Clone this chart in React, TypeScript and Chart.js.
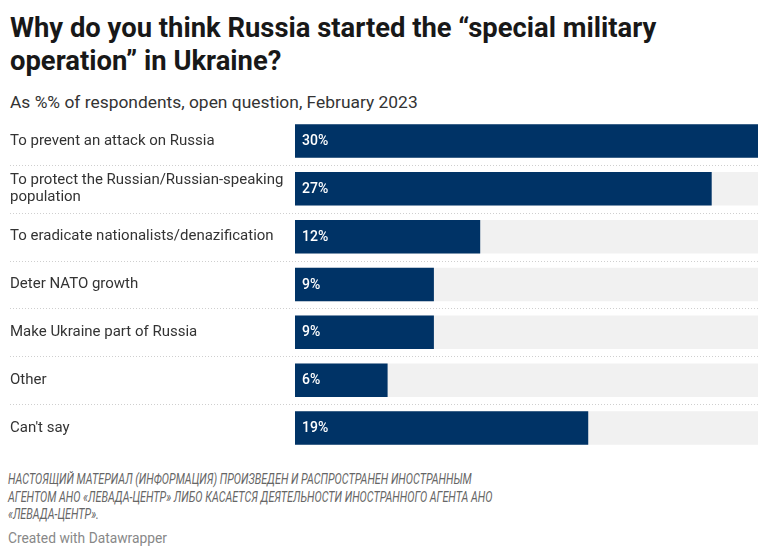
import React, { useEffect, useRef } from "react";
import { Chart, registerables } from "chart.js";

Chart.register(...registerables);

// Survey answers, top to bottom
const CATEGORIES: (string | string[])[] = [
  "To prevent an attack on Russia",
  ["To protect the Russian/Russian-speaking", "population"],
  "To eradicate nationalists/denazification",
  "Deter NATO growth",
  "Make Ukraine part of Russia",
  "Other",
  "Can't say",
];

// Share of respondents, %
const VALUES: number[] = [30, 27, 12, 9, 9, 6, 19];

// Upper bound of the value axis; the grey track runs up to it
const AXIS_MAX = 30;

const BAR_COLOR = "#003366";
const TRACK_COLOR = "#f1f1f1";
const FONT = "Roboto, 'Noto Sans', sans-serif";

// Dotted separators between rows, reaching across the label column
const rowSeparators = {
  id: "rowSeparators",
  beforeDatasetsDraw(chart: any) {
    const { ctx, chartArea } = chart;
    const y = chart.scales.y;
    const n = y.ticks.length;
    ctx.save();
    ctx.strokeStyle = "#cfcfcf";
    ctx.lineWidth = 1;
    ctx.setLineDash([1, 2]);
    for (let i = 0; i < n - 1; i++) {
      const yy = Math.round((y.getPixelForTick(i) + y.getPixelForTick(i + 1)) / 2) + 0.5;
      ctx.beginPath();
      ctx.moveTo(10, yy);
      ctx.lineTo(chartArea.right, yy);
      ctx.stroke();
    }
    ctx.restore();
  },
};

// Percentage labels printed inside each bar
const valueLabels = {
  id: "valueLabels",
  afterDatasetsDraw(chart: any) {
    const { ctx } = chart;
    const meta = chart.getDatasetMeta(0);
    ctx.save();
    ctx.fillStyle = "#ffffff";
    ctx.font = `500 14px ${FONT}`;
    ctx.textAlign = "left";
    ctx.textBaseline = "middle";
    meta.data.forEach((bar: any, i: number) => {
      ctx.fillText(`${VALUES[i]}%`, bar.base + 7, bar.y + 0.5);
    });
    ctx.restore();
  },
};

function BarChart() {
  const canvasRef = useRef<HTMLCanvasElement | null>(null);

  useEffect(() => {
    let chart: Chart | null = null;
    let cancelled = false;

    const build = () => {
      if (cancelled || !canvasRef.current) return;
      chart = new Chart(canvasRef.current, {
        type: "bar",
        data: {
          labels: CATEGORIES as any,
          datasets: [
            {
              label: "Share",
              data: VALUES,
              backgroundColor: BAR_COLOR,
              barPercentage: 0.7,
              categoryPercentage: 1,
              grouped: false,
              order: 0,
            },
            {
              label: "Track",
              data: CATEGORIES.map(() => AXIS_MAX),
              backgroundColor: TRACK_COLOR,
              barPercentage: 0.7,
              categoryPercentage: 1,
              grouped: false,
              order: 1,
            },
          ],
        },
        options: {
          indexAxis: "y",
          responsive: false,
          animation: false,
          layout: { padding: { left: 10, right: 7, top: 2, bottom: 2 } },
          plugins: {
            legend: { display: false },
            tooltip: { enabled: false },
          },
          scales: {
            x: {
              min: 0,
              max: AXIS_MAX,
              display: false,
            },
            y: {
              grid: { display: false },
              border: { display: false },
              ticks: {
                crossAlign: "far",
                color: "#333333",
                font: { family: FONT, size: 15, lineHeight: 1.17 },
                autoSkip: false,
              },
              afterFit(scale: any) {
                scale.width = 285;
                scale.paddingTop = 0;
                scale.paddingBottom = 0;
              },
            },
          },
        },
        plugins: [rowSeparators, valueLabels],
      });
    };

    const fonts = (document as any).fonts;
    if (fonts && fonts.load) {
      Promise.all([
        fonts.load(`15px Roboto`),
        fonts.load(`500 14px Roboto`),
      ])
        .catch(() => undefined)
        .then(build);
    } else {
      build();
    }

    return () => {
      cancelled = true;
      if (chart) chart.destroy();
    };
  }, []);

  return (
    <canvas
      ref={canvasRef}
      width={765}
      height={339}
      style={{ position: "absolute", left: 0, top: 115, display: "block" }}
    />
  );
}

export default function App() {
  return (
    <div
      style={{
        position: "absolute",
        left: 0,
        top: 0,
        width: 765,
        height: 558,
        background: "#ffffff",
        fontFamily: FONT,
      }}
    >
      <div
        style={{
          position: "absolute",
          left: 10,
          top: 12,
          fontSize: 27.4,
          lineHeight: "33px",
          fontWeight: 700,
          color: "#181818",
          whiteSpace: "nowrap",
        }}
      >
        Why do you think Russia started the “special military
        <br />
        operation” in Ukraine?
      </div>
      <div
        style={{
          position: "absolute",
          left: 10,
          top: 92,
          fontSize: 17.4,
          lineHeight: "20px",
          color: "#333333",
          whiteSpace: "nowrap",
        }}
      >
        As %% of respondents, open question, February 2023
      </div>
      <BarChart />
      <div
        style={{
          position: "absolute",
          left: 8,
          top: 471,
          fontStyle: "italic",
          fontSize: 14,
          lineHeight: "17.5px",
          color: "#666666",
          whiteSpace: "nowrap",
          transform: "scaleX(0.77)",
          transformOrigin: "0 0",
        }}
      >
        НАСТОЯЩИЙ МАТЕРИАЛ (ИНФОРМАЦИЯ) ПРОИЗВЕДЕН И РАСПРОСТРАНЕН ИНОСТРАННЫМ
        <br />
        АГЕНТОМ АНО «ЛЕВАДА-ЦЕНТР» ЛИБО КАСАЕТСЯ ДЕЯТЕЛЬНОСТИ ИНОСТРАННОГО АГЕНТА АНО
        <br />
        «ЛЕВАДА-ЦЕНТР».
      </div>
      <div
        style={{
          position: "absolute",
          left: 8,
          top: 530,
          fontSize: 13.8,
          lineHeight: "16px",
          color: "#888888",
          whiteSpace: "nowrap",
        }}
      >
        Created with Datawrapper
      </div>
    </div>
  );
}
